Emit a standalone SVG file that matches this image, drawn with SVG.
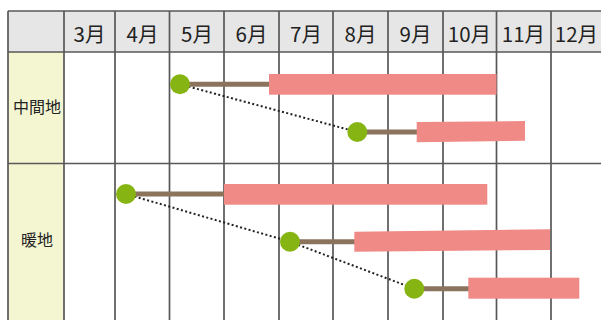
<svg xmlns="http://www.w3.org/2000/svg" width="601" height="320" viewBox="0 0 601 320">
<defs>
<style>
.grid{stroke:#585858;stroke-width:1.7;fill:none}
.hdr{fill:#e6e6e6}
.lab{fill:#f4f6d2}
.t{font-family:"Noto Sans CJK JP","Noto Sans",sans-serif;font-size:16px;fill:#222;text-anchor:middle}
.h{font-size:20.5px}
.dot{fill:#86b513}
.stem{stroke:#8b735e;stroke-width:5}
.bar{fill:#f08a86}
.link{stroke:#222;stroke-width:2;stroke-dasharray:2 2.4;fill:none}
</style>
</defs>
<rect x="0" y="0" width="601" height="320" fill="#fff"/>
<g id="table">
<rect class="hdr" x="8" y="11" width="600" height="41"/>
<rect class="lab" x="8" y="52" width="56" height="270"/>
<path class="grid" d="M8,11H601M8,52H601M8,163.5H601M8,11V320M64,11V320M115,11V320M169.5,11V320M224,11V320M279,11V320M333,11V320M388,11V320M443,11V320M496.5,11V320M551,11V320"/>
</g>
<g id="header">
<text class="t h" x="89.5" y="41.5">3月</text>
<text class="t h" x="142.5" y="41.5">4月</text>
<text class="t h" x="197" y="41.5">5月</text>
<text class="t h" x="251.5" y="41.5">6月</text>
<text class="t h" x="306" y="41.5">7月</text>
<text class="t h" x="360.5" y="41.5">8月</text>
<text class="t h" x="415.5" y="41.5">9月</text>
<text class="t h" x="469.5" y="41.5">10月</text>
<text class="t h" x="523.5" y="41.5">11月</text>
<text class="t h" x="576.5" y="41.5">12月</text>
</g>
<g id="label-chukanchi"><text class="t" x="37" y="113">中間地</text></g>
<g id="label-danchi"><text class="t" x="37" y="246">暖地</text></g>
<g id="connectors">
<line class="link" x1="180" y1="84.3" x2="357.3" y2="132"/>
<line class="link" x1="126" y1="194" x2="290" y2="241.7"/>
<line class="link" x1="290" y1="241.7" x2="414.3" y2="288.7"/>
</g>
<g id="node-m1">
<line class="stem" x1="180" y1="84.3" x2="270" y2="84.3"/>
<rect class="bar" x="269" y="74" width="227.5" height="20.7"/>
<circle class="dot" cx="180" cy="84.3" r="10"/>
</g>
<g id="node-m2">
<line class="stem" x1="357.3" y1="132" x2="417" y2="132"/>
<polygon class="bar" points="416.7,122 525,121 525,140.7 416.7,142.3"/>
<circle class="dot" cx="357.3" cy="132" r="10"/>
</g>
<g id="node-w1">
<line class="stem" x1="126" y1="194" x2="225" y2="194"/>
<rect class="bar" x="224" y="184" width="263.3" height="20.7"/>
<circle class="dot" cx="126" cy="194" r="10"/>
</g>
<g id="node-w2">
<line class="stem" x1="290" y1="241.7" x2="355" y2="241.7"/>
<polygon class="bar" points="354.3,231.7 550,229.3 550,250 354.3,251.7"/>
<circle class="dot" cx="290" cy="241.7" r="10"/>
</g>
<g id="node-w3">
<line class="stem" x1="414.3" y1="288.7" x2="469" y2="288.7"/>
<rect class="bar" x="468.3" y="277.7" width="111" height="21"/>
<circle class="dot" cx="414.3" cy="288.7" r="10"/>
</g>
</svg>
